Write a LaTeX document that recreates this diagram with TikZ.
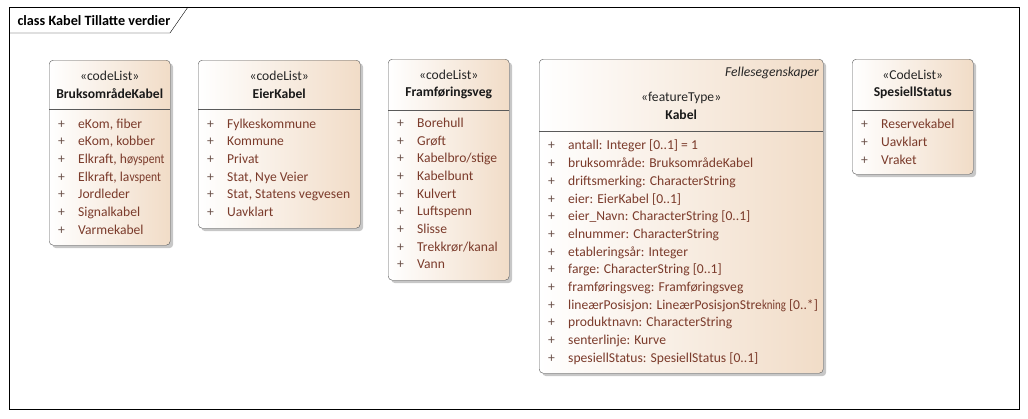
\documentclass[tikz,border=0pt]{standalone}
\usepackage{fontspec}
\setmainfont{Carlito}
\usepackage{graphicx}
\usepackage{tikz}
\usetikzlibrary{shadows}

\definecolor{boxtan}{HTML}{F1DCC7}
\definecolor{boxedge}{HTML}{5A5A5A}
\definecolor{itemtext}{HTML}{7B3B2B}
\definecolor{plustext}{HTML}{6A5048}
\newcommand{\umlfont}{\fontsize{13.6}{17.7}\selectfont}
\newcommand{\pl}{\textcolor{plustext}{+}}

\begin{document}
\begin{tikzpicture}[x=1pt, y=-1pt,
  classbox/.style={draw=boxedge, rounded corners=4pt, left color=white, right color=boxtan,
    drop shadow={shadow xshift=3pt, shadow yshift=-3pt, fill=black, opacity=.22},
    anchor=north west, inner sep=0pt},
  stereo/.style={font=\umlfont, text=black!85},
  cname/.style={font=\umlfont\bfseries, text=black!90},
  items/.style={font=\umlfont, text=itemtext, anchor=north west, inner sep=0pt}]
\useasboundingbox (0,0) rectangle (1028,418);
\draw [draw=black] (9,7) rectangle (1019,409);
\draw [draw=black] (9,33) -- (170,33) -- (188,7);
\node [anchor=west, font=\fontsize{14.2}{17}\selectfont\bfseries] (title) at (14,20.5) {class Kabel Tillatte verdier};

% BruksområdeKabel
\node [classbox, minimum width=121pt, minimum height=185pt] (bruks) at (49,60) {};
\draw [boxedge] ([yshift=-49pt]bruks.north west) -- ([yshift=-49pt]bruks.north east);
\node [stereo] (bruksst) at ([yshift=-16pt]bruks.north) {«codeList»};
\node [cname] (bruksnm) at ([yshift=-34pt]bruks.north) {BruksområdeKabel};
\node [items] (bruksit) at ([xshift=9pt, yshift=-55.6pt]bruks.north west) {%
  \begin{tabular}{@{}p{20pt}@{}l@{}}
  \pl & eKom, fiber\\ \pl & eKom, kobber\\
  \pl & Elkraft, h\scalebox{.85}[1]{øyspent}\\ \pl & Elkraft, la\scalebox{.85}[1]{vspent}\\
  \pl & Jordleder\\ \pl & Signalkabel\\ \pl & Varmekabel
  \end{tabular}};

% EierKabel
\node [classbox, minimum width=162pt, minimum height=168pt] (eier) at (198,60) {};
\draw [boxedge] ([yshift=-49pt]eier.north west) -- ([yshift=-49pt]eier.north east);
\node [stereo] (eierst) at ([yshift=-16pt]eier.north) {«codeList»};
\node [cname] (eiernm) at ([yshift=-34pt]eier.north) {EierKabel};
\node [items] (eierit) at ([xshift=9pt, yshift=-55.6pt]eier.north west) {%
  \begin{tabular}{@{}p{20pt}@{}l@{}}
  \pl & Fylkeskommune\\ \pl & Kommune\\ \pl & Privat\\
  \pl & Stat, Nye Veier\\ \pl & Stat, Statens vegvesen\\ \pl & Uavklart
  \end{tabular}};

% Framføringsveg
\node [classbox, minimum width=121pt, minimum height=221pt] (fram) at (388,59) {};
\draw [boxedge] ([yshift=-51pt]fram.north west) -- ([yshift=-51pt]fram.north east);
\node [stereo] (framst) at ([yshift=-16pt]fram.north) {«codeList»};
\node [cname] (framnm) at ([yshift=-34pt]fram.north) {Framføringsveg};
\node [items] (framit) at ([xshift=9pt, yshift=-55.8pt]fram.north west) {%
  \begin{tabular}{@{}p{20pt}@{}l@{}}
  \pl & Borehull\\ \pl & Grøft\\ \pl & Kabelbro/stige\\ \pl & Kabelbunt\\
  \pl & Kulvert\\ \pl & Luftspenn\\ \pl & Slisse\\ \pl & Trekkrør/kanal\\ \pl & Vann
  \end{tabular}};

% Kabel
\node [classbox, minimum width=284pt, minimum height=314pt] (kabel) at (539,59) {};
\draw [boxedge] ([yshift=-72pt]kabel.north west) -- ([yshift=-72pt]kabel.north east);
\node [stereo, anchor=east, font=\umlfont\itshape] (kabelfe) at ([xshift=-1pt, yshift=-14pt]kabel.north east) {Fellesegenskaper};
\node [stereo] (kabelst) at ([yshift=-39pt]kabel.north) {«featureType»};
\node [cname] (kabelnm) at ([yshift=-56pt]kabel.north) {Kabel};
\node [items] (kabelit) at ([xshift=9pt, yshift=-78.4pt]kabel.north west) {%
  \begin{tabular}{@{}p{20pt}@{}l@{}}
  \pl & antall: Integer [0..1] = 1\\
  \pl & bruksområde: BruksområdeKabel\\
  \pl & driftsmerking: CharacterString\\
  \pl & eier: EierKabel [0..1]\\
  \pl & eier\_Navn: CharacterString [0..1]\\
  \pl & elnummer: CharacterString\\
  \pl & etableringsår: Integer\\
  \pl & farge: CharacterString [0..1]\\
  \pl & framføringsveg: Framføringsveg\\
  \pl & lineærPosisjon: LineærPosisjonStre\scalebox{.8}[1]{kning} [0..*]\\
  \pl & produktnavn: CharacterString\\
  \pl & senterlinje: Kurve\\
  \pl & spesiellStatus: SpesiellStatus [0..1]
  \end{tabular}};

% SpesiellStatus
\node [classbox, minimum width=121pt, minimum height=115pt] (spes) at (852,59) {};
\draw [boxedge] ([yshift=-51pt]spes.north west) -- ([yshift=-51pt]spes.north east);
\node [stereo] (spesst) at ([yshift=-16pt]spes.north) {«CodeList»};
\node [cname] (spesnm) at ([yshift=-34pt]spes.north) {SpesiellStatus};
\node [items] (spesit) at ([xshift=9pt, yshift=-57.2pt]spes.north west) {%
  \begin{tabular}{@{}p{20pt}@{}l@{}}
  \pl & Reservekabel\\ \pl & Uavklart\\ \pl & Vraket
  \end{tabular}};
\end{tikzpicture}
\end{document}
